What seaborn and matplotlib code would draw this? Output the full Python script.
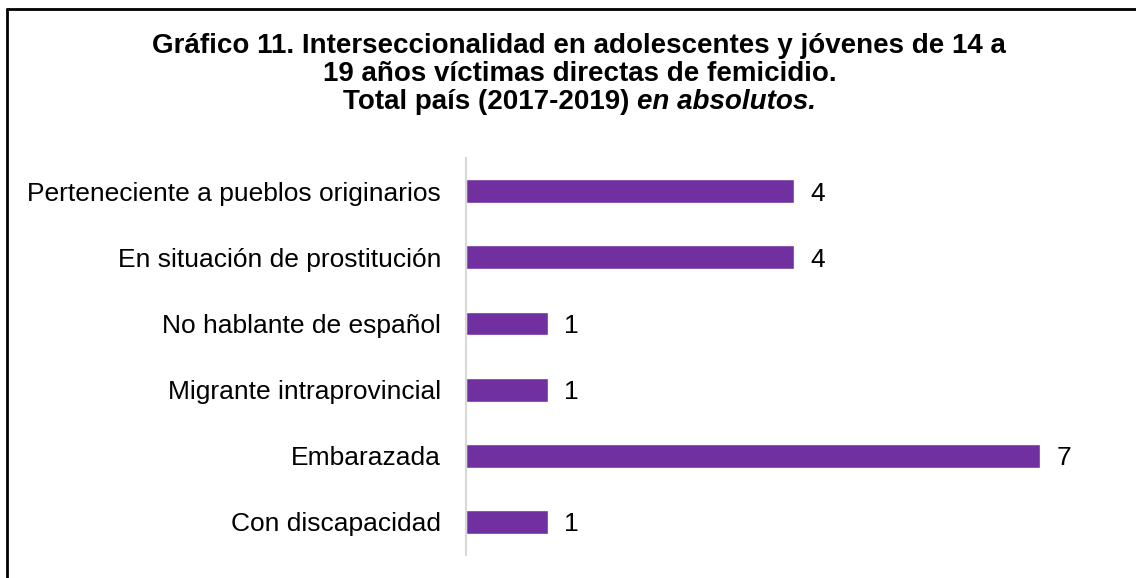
import matplotlib
matplotlib.use("Agg")
import matplotlib.pyplot as plt
import seaborn as sns
import pandas as pd

categorias = [
    "Perteneciente a pueblos originarios",
    "En situación de prostitución",
    "No hablante de español",
    "Migrante intraprovincial",
    "Embarazada",
    "Con discapacidad",
]
valores = [4, 4, 1, 1, 7, 1]

titulo_1 = "Gráfico 11. Interseccionalidad en adolescentes y jóvenes de 14 a"
titulo_2 = "19 años víctimas directas de femicidio."
titulo_3a = "Total país (2017-2019) "
titulo_3b = "en absolutos."

sns.set_theme(style="white")
plt.rcParams["font.family"] = ["Liberation Sans", "DejaVu Sans"]
plt.rcParams["text.color"] = "black"

df = pd.DataFrame({"categoria": categorias, "valor": valores})

fig = plt.figure(figsize=(11.36, 5.78), dpi=100)
ax = fig.add_axes([0.4102, 0.0398, 0.5775, 0.6868])

sns.barplot(data=df, y="categoria", x="valor", color="#7030A0",
            width=0.36, saturation=1, ax=ax, orient="h")

ax.set_xlim(0, 8)
ax.set_ylim(5.5, -0.5)
ax.set_xlabel("")
ax.set_ylabel("")
ax.set_xticks([])
ax.tick_params(axis="y", length=0, pad=18, labelsize=19, labelcolor="black")
for s in ["top", "right", "bottom"]:
    ax.spines[s].set_visible(False)
ax.spines["left"].set_color("#D9D9D9")
ax.spines["left"].set_linewidth(1.5)

for i, v in enumerate(valores):
    ax.text(v + 0.2, i, str(v), va="center_baseline", ha="left",
            fontsize=19, color="black")

# titulo
fs_t = 20
fig.text(0.51, 1 - 46 / 578, titulo_1, ha="center", va="center",
         fontsize=fs_t, fontweight="bold", color="black")
fig.text(0.51, 1 - 74 / 578, titulo_2, ha="center", va="center",
         fontsize=fs_t, fontweight="bold", color="black")
r = fig.canvas.get_renderer()
ta = fig.text(0, 1 - 102 / 578, titulo_3a, ha="left", va="center",
              fontsize=fs_t, fontweight="bold", color="black")
tb = fig.text(0, 1 - 102 / 578, titulo_3b, ha="left", va="center",
              fontsize=fs_t, fontweight="bold", style="italic", color="black")
wa = ta.get_window_extent(r).width / fig.bbox.width
wb = tb.get_window_extent(r).width / fig.bbox.width
x0 = 0.51 - (wa + wb) / 2
ta.set_x(x0)
tb.set_x(x0 + wa)

# marco
fig.add_artist(plt.Line2D([7 / 1136, 7 / 1136], [0, 1 - 9 / 578],
                          color="black", lw=2, transform=fig.transFigure))
fig.add_artist(plt.Line2D([7 / 1136, 1], [1 - 9 / 578, 1 - 9 / 578],
                          color="black", lw=2, transform=fig.transFigure))

fig.savefig("out.png", dpi=100)
